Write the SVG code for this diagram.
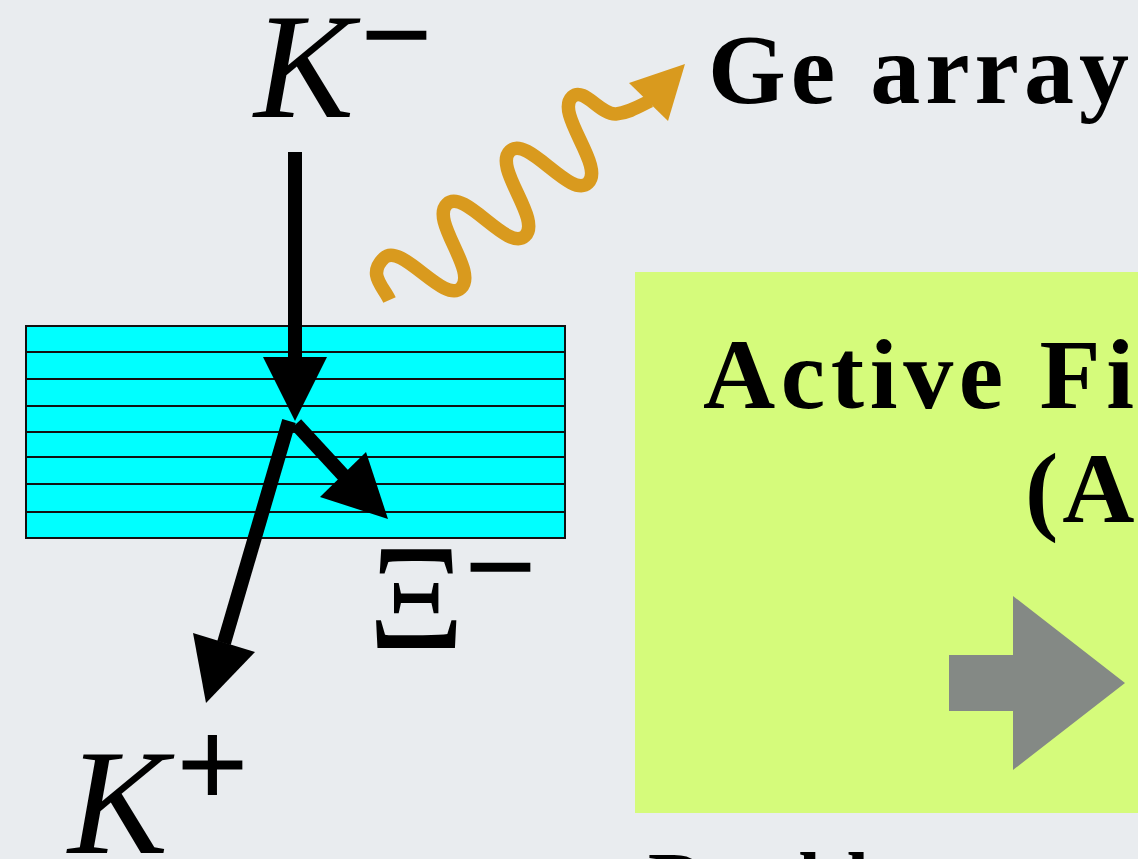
<svg xmlns="http://www.w3.org/2000/svg" width="1138" height="859" viewBox="0 0 1138 859">
  <style>
    .serif { font-family: "Liberation Serif", "Times New Roman", serif; fill: #000; }
    .bold { font-weight: bold; }
    .ital { font-style: italic; }
    .stripe { fill: #00ffff; stroke: #111; stroke-width: 2; }
    .shaft { stroke: #000; stroke-width: 14; stroke-linecap: butt; fill: none; }
    .head { fill: #000; }
    .sup { stroke: #000; stroke-width: 3; }
  </style>
  <rect x="0" y="0" width="1138" height="859" fill="#e9ecef"/>

  <g id="target">
    <rect class="stripe" x="26" y="326" width="539" height="26"/>
    <rect class="stripe" x="26" y="352" width="539" height="27"/>
    <rect class="stripe" x="26" y="379" width="539" height="27"/>
    <rect class="stripe" x="26" y="406" width="539" height="26"/>
    <rect class="stripe" x="26" y="432" width="539" height="25"/>
    <rect class="stripe" x="26" y="457" width="539" height="27"/>
    <rect class="stripe" x="26" y="484" width="539" height="28"/>
    <rect class="stripe" x="26" y="512" width="539" height="26"/>
  </g>

  <g id="aft-box">
    <rect x="635" y="272" width="503" height="541" fill="#d5fb7b"/>
    <text class="serif bold" x="703" y="408" font-size="100" textLength="431" lengthAdjust="spacing">Active Fi</text>
    <text class="serif bold" x="1025" y="522" font-size="100" letter-spacing="4">(A</text>
    <polygon points="949,655 1013,655 1013,596 1125,683 1013,770 1013,711 949,711" fill="#848985"/>
  </g>

  <g id="label-kminus">
    <text class="serif ital" x="254" y="117" font-size="150">K</text>
    <text class="serif sup" x="362" y="76" font-size="122">−</text>
  </g>

  <g id="label-kplus">
    <text class="serif ital" x="68" y="853" font-size="150">K</text>
    <text class="serif sup" x="178" y="806" font-size="122">+</text>
  </g>

  <g id="label-xi">
    <text class="serif" x="368" y="648" font-size="150">Ξ</text>
    <text class="serif sup" x="466" y="608" font-size="122">−</text>
  </g>

  <g id="ge-array">
    <text class="serif bold" x="708" y="103" font-size="100" textLength="421" lengthAdjust="spacing">Ge array</text>
  </g>

  <g id="bottom-text">
    <text class="serif bold" x="648" y="908" font-size="80" letter-spacing="3">Double</text>
  </g>

  <g id="connectors">
    <line class="shaft" x1="295" y1="152" x2="295" y2="360"/>
    <polygon class="head" points="263,357 327,357 295,421"/>
    <line class="shaft" x1="289" y1="421" x2="224" y2="643"/>
    <polygon class="head" points="193,633 255,652 206,703"/>
    <line class="shaft" x1="296" y1="424" x2="344" y2="476"/>
    <polygon class="head" points="366,452 320,497 388,519"/>
    <path d="M389.5,300 C384,287 366.7,274.6 384,258 C401.3,241.4 443.7,304.6 461,288 C478.3,271.4 429.7,220.6 447,204 C464.3,187.4 507.7,252.6 525,236 C542.3,219.4 492.7,167.6 510,151 C527.3,134.4 570.7,199.6 588,183 C605.3,166.4 554.7,113.6 572,97 C584,86 600,115 616,114 C628,113 638,107 650,101" fill="none" stroke="#d99a1e" stroke-width="13.5" stroke-linecap="butt"/>
    <polygon points="629,83 685,64 668,121" fill="#d99a1e"/>
  </g>
</svg>
